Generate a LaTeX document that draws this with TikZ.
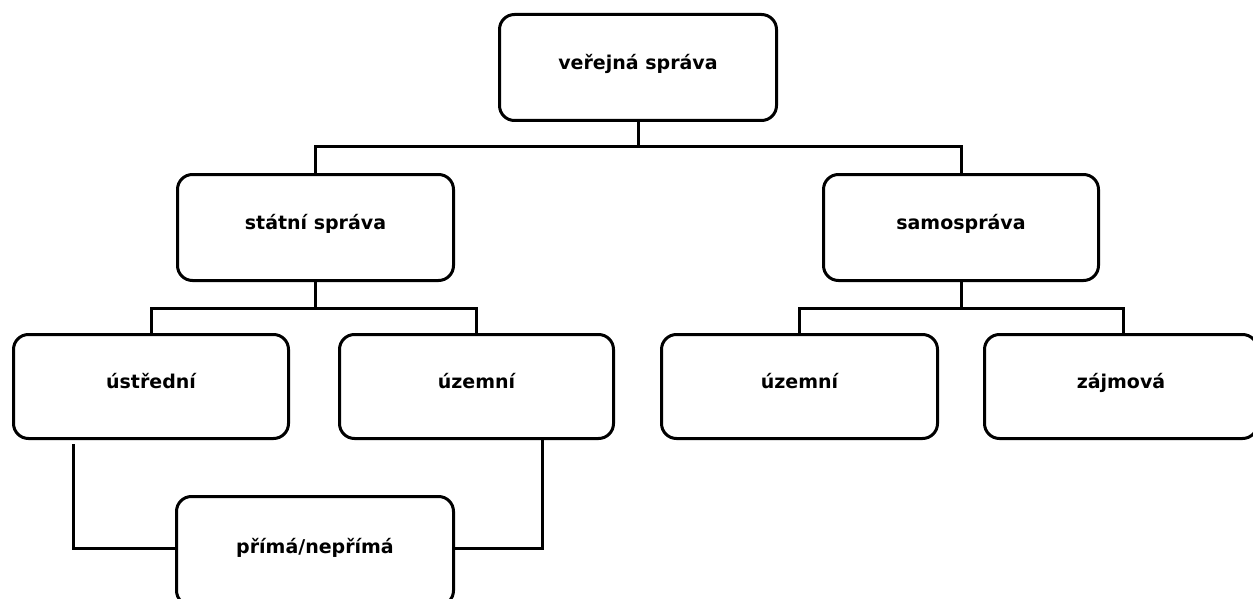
\documentclass[tikz,border=0pt]{standalone}
\usepackage{fontspec}
\setmainfont{DejaVu Sans}
\begin{document}
\begin{tikzpicture}[x=1pt,y=-1pt,
  box/.style={draw, line width=3pt, rounded corners=15pt, fill=white,
    inner sep=0pt, align=center, font=\bfseries\fontsize{19}{22}\selectfont,
    text height=14pt, text depth=10pt},
  link/.style={line width=3pt}]
\useasboundingbox (0,0) rectangle (1253,599);
% tree levels
\node[box, minimum width=277pt, minimum height=106pt] (top) at (638,67.5) {veřejná správa};
\node[box, minimum width=276pt, minimum height=106pt] (st)  at (315.5,227.5) {státní správa};
\node[box, minimum width=275pt, minimum height=106pt] (sa)  at (961,227.5) {samospráva};
\node[box, minimum width=275pt, minimum height=104pt] (ust) at (151,386.5) {ústřední};
\node[box, minimum width=274pt, minimum height=104pt] (uz1) at (476.5,386.5) {územní};
\node[box, minimum width=276pt, minimum height=104pt] (uz2) at (799.5,386.5) {územní};
\node[box, minimum width=273pt, minimum height=104pt] (zj)  at (1121,386.5) {zájmová};
\node[box, minimum width=277pt, minimum height=109pt] (pr)  at (315,551) {přímá/nepřímá};
% bus lines
\coordinate (b1) at (0,147);
\coordinate (b2) at (0,308);
\draw[link] (top.south) -- (top.south |- b1);
\draw[link] (st.north) |- (b1 -| sa.north) -- (sa.north);
\draw[link] (st.south) -- (st.south |- b2);
\draw[link] (ust.north) |- (b2 -| uz1.north) -- (uz1.north);
\draw[link] (sa.south) -- (sa.south |- b2);
\draw[link] (uz2.north) |- ([xshift=2pt]b2 -| zj.north) -- ([xshift=2pt]zj.north);
% links to the shared box
\coordinate (lj) at (0,548);
\draw[link] ([xshift=-78pt,yshift=-4pt]ust.south) |- (lj -| pr.west);
\draw[link] ([xshift=65.5pt]uz1.south) |- (lj -| pr.east);
\end{tikzpicture}
\end{document}
